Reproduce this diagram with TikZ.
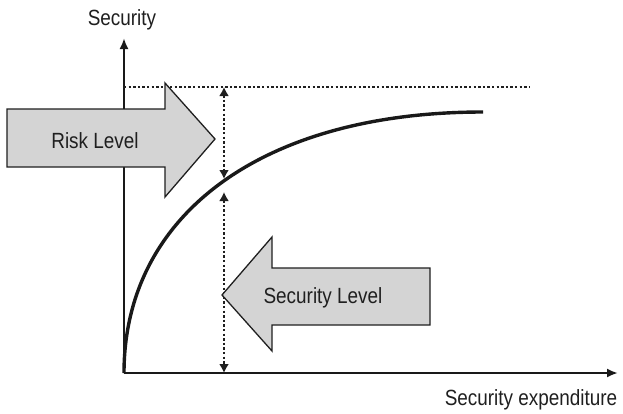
\documentclass[tikz,border=0pt]{standalone}
\usepackage{fontspec}
\setmainfont[FakeStretch=0.86]{Liberation Sans}
\usetikzlibrary{arrows.meta}
\begin{document}
\begin{tikzpicture}[x=1pt,y=-1pt,
  axisline/.style={line width=2.6pt,draw=black!90,-{Latex[length=11pt,width=9pt]}},
  curveline/.style={line width=3.4pt,draw=black!90},
  guide/.style={line width=2.6pt,draw=black!88,dash pattern=on 2.4pt off 2.2pt},
  measure/.style={guide,{Latex[length=9pt,width=10pt]}-{Latex[length=9pt,width=10pt]}},
  blockarrow/.style={fill=black!17,draw=black!88,line width=1.3pt,line join=miter},
  lbl/.style={font=\fontsize{22}{24}\selectfont,text=black!88,inner sep=0pt}]
\useasboundingbox (0,0) rectangle (623,413);

% axes
\coordinate (O) at (124,373);
\coordinate (ytop) at (124,38);
\coordinate (xend) at (618,373);
\draw[axisline] (O) -- (ytop);
\draw[axisline] (O) -- (xend);

% maximum security level
\coordinate (maxL) at (124,87);
\coordinate (maxR) at (530,87);
\draw[guide] (maxL) -- (maxR);

% security as a function of expenditure
\coordinate (cend) at (483,112);
\draw[curveline] (O) .. controls (124,215) and (262,112) .. (cend);

% risk and security measures
\coordinate (m1) at (224,87);
\coordinate (m2) at (224,179);
\coordinate (m3) at (224,192);
\coordinate (m4) at (224,373);
\draw[measure] (m1) -- (m2);
\draw[measure] (m3) -- (m4);

% block arrows
\draw[blockarrow] (7,109) -- (165,109) -- (165,83) -- (215,139) -- (165,197)
  -- (165,167) -- (7,167) -- cycle;
\draw[blockarrow] (222,295) -- (272,237) -- (272,268) -- (430,268) -- (430,325)
  -- (272,325) -- (272,351) -- cycle;

% labels
\node[lbl] (risk) at (95,141) {Risk Level};
\node[lbl] (seclevel) at (323,298) {Security Level};
\node[lbl] (ylabel) at (122,20) {Security};
\node[lbl] (xlabel) at (531,400) {Security expenditure};
\end{tikzpicture}
\end{document}
